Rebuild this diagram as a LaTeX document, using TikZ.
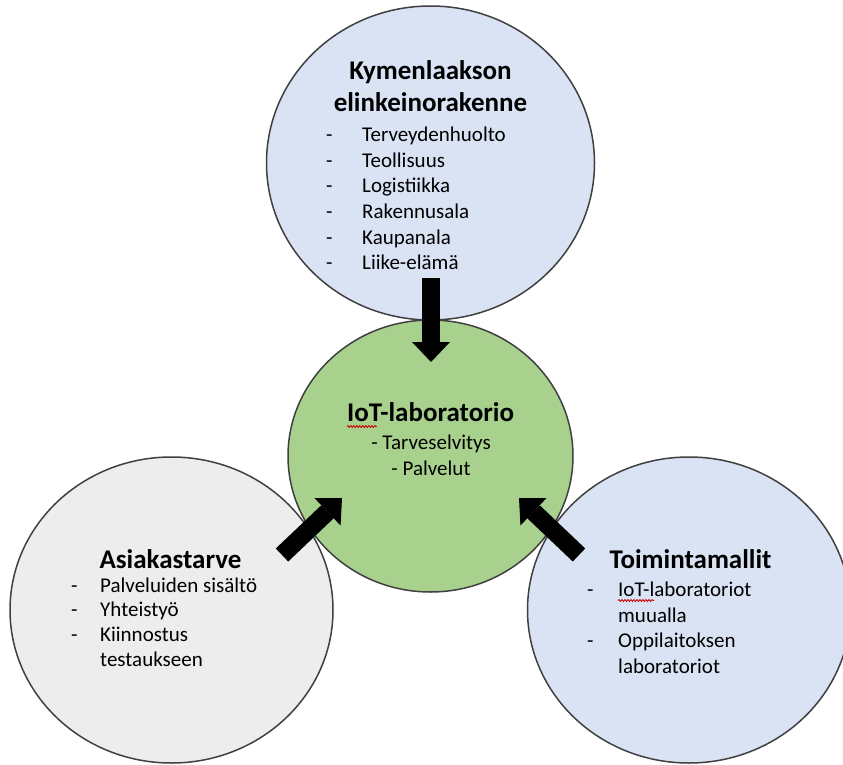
\documentclass[tikz,border=0pt]{standalone}
\usepackage{fontspec}
\setmainfont{Carlito}
\usetikzlibrary{shapes.geometric,arrows.meta,decorations.pathmorphing}
\definecolor{bubbleblue}{HTML}{DAE3F3}
\definecolor{bubblegreen}{HTML}{A9D18E}
\definecolor{bubblegray}{HTML}{EDEDED}
\definecolor{rim}{HTML}{404040}
\tikzset{
    bubble/.style={ellipse,draw=rim,line width=1.5pt,inner sep=0pt},
    headline/.style={anchor=base,inner sep=0pt,font=\fontsize{27}{32}\selectfont\bfseries},
    listitem/.style={anchor=base west,inner sep=0pt,font=\fontsize{21}{25.6}\selectfont},
    bigarrow/.style={line width=18pt,-{Triangle[width=38pt,length=20pt,line width=0pt]}},
    squiggle/.style={red!80!black,line width=0.8pt,decorate,decoration={snake,amplitude=1pt,segment length=3pt}}
}
\begin{document}
\begin{tikzpicture}[x=1pt,y=-1pt]
        \useasboundingbox[fill=white] (0,0) rectangle (843,765);
        \clip (0,0) rectangle (843,765);
        \begin{scope}[every node/.style={bubble}]
            \node[fill=bubbleblue,minimum width=328pt,minimum height=314pt] (kym) at (430.5,163) {};
            \node[fill=bubblegray,minimum width=323pt,minimum height=306pt] (asi) at (171.5,610) {};
            \node[fill=bubbleblue,minimum width=323pt,minimum height=306pt] (toi) at (689,610) {};
            \node[fill=bubblegreen,minimum width=285pt,minimum height=272pt] (lab) at (430.5,456) {};
        \end{scope}

        \node[headline] (kymA) at (430.5,80) {Kymenlaakson};
        \node[headline] (kymB) at (430.5,112) {elinkeinorakenne};
        \node[headline] (labT) at (430.5,421.5) {IoT-laboratorio};
        \node[headline] (asiT) at (170.5,568) {Asiakastarve};
        \node[headline] (toiT) at (690.5,568) {Toimintamallit};

        \foreach \txt [count=\i] in {Terveydenhuolto,Teollisuus,Logistiikka,Rakennusala,Kaupanala,Liike-elämä}
            {\node[listitem] (kym\i) at (326,116+25.6*\i) {\makebox[36pt][l]{-}\txt};}
        \foreach \d/\txt [count=\i] in {-/Palveluiden sisältö,-/Yhteistyö,-/Kiinnostus,{}/testaukseen}
            {\node[listitem] (asi\i) at (71,567.3+24.7*\i) {\makebox[29pt][l]{\d}\txt};}
        \foreach \d/\txt [count=\i] in {-/IoT-laboratoriot,{}/muualla,-/Oppilaitoksen,{}/laboratoriot}
            {\node[listitem] (toi\i) at (587,571+25.5*\i) {\makebox[31pt][l]{\d}\txt};}
        \node[listitem,anchor=base] (lab1) at (431,449) {- Tarveselvitys};
        \node[listitem,anchor=base] (lab2) at (431,475) {- Palvelut};

        % spell-check marks
        \draw[squiggle] ([yshift=-5pt]labT.base west) -- ++(30,0);
        \draw[squiggle] ([xshift=31pt,yshift=-4pt]toi1.base west) -- ++(36,0);

        \coordinate (kymtail) at (431,278);
        \coordinate (kymtip)  at (431,362);
        \coordinate (asitail) at (282,555);
        \coordinate (asitip)  at (342,498);
        \coordinate (toitail) at (579,555);
        \coordinate (toitip)  at (519,498);
        \begin{scope}[bigarrow]
            \draw (kymtail)--(kymtip);
            \draw (asitail)--(asitip);
            \draw (toitail)--(toitip);
        \end{scope}
    \end{tikzpicture}
\end{document}
